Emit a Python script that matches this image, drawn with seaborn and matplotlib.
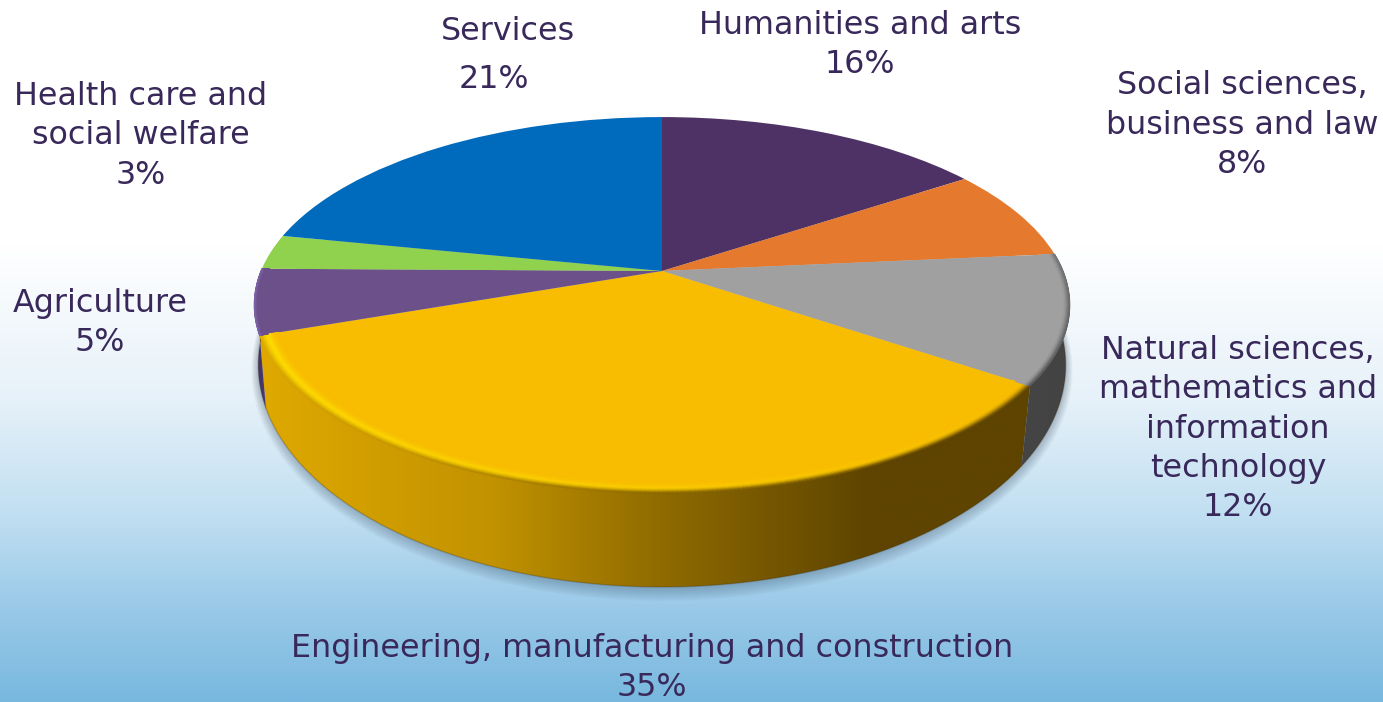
import numpy as np
import matplotlib
matplotlib.use("Agg")
import matplotlib.pyplot as plt
from matplotlib.colors import LinearSegmentedColormap, to_rgb
from matplotlib.patches import Polygon
from matplotlib.transforms import Transform
import seaborn as sns

# shares as drawn in the picture, printed percentages kept separately
categories = ["Humanities and arts", "Social sciences,\nbusiness and law",
              "Natural sciences,\nmathematics and\ninformation\ntechnology",
              "Engineering, manufacturing and construction",
              "Agriculture", "Health care and\nsocial welfare", "Services"]
shares = [15.6, 7.9, 11.1, 35.0, 5.6, 3.0, 21.8]
printed = ["16%", "8%", "12%", "35%", "5%", "3%", "21%"]
colors = ["#4e3265", "#e57a2e", "#a0a0a0", "#f8bc00", "#6b5089", "#90d14d", "#006bbd"]
label_pos = [(860, 45), (1242, 125), (1238, 429), (652, 668), (100, 323), (141, 136)]

CX, CY = 662, 271
TEXT = "#38295a"
GOLD_SIDE = [(0, "#dfa900"), (0.3, "#c29200"), (0.52, "#8f6b00"), (0.79, "#5e4400"), (1, "#5e4400")]


class Perspective(Transform):
    """Tilted disc: unit circle from ax.pie to picture pixels."""
    input_dims = output_dims = 2

    def __init__(self, sx=1.0, sy=1.0, shift=0.0):
        super().__init__()
        self.sx, self.sy, self.shift = sx, sy, shift

    def transform_non_affine(self, values):
        x, y = np.asarray(values).T
        den = 1 + 0.181 * y
        px = CX + 401 * self.sx * x / den
        py = CY - 181.8 * y / den
        return np.column_stack([px, 305 + self.shift + (py - 305) * self.sy])


sns.set_theme(style="white")
plt.rcParams["font.family"] = ["DejaVu Sans"]

fig = plt.figure(figsize=(13.83, 7.02), dpi=100)
ax = fig.add_axes([0, 0, 1, 1])

wedges, _ = ax.pie(shares, colors=colors, startangle=90, counterclock=False, radius=1)
ax.set_aspect("auto")
ax.axis("off")

top = Perspective()
bottom = Perspective(sx=404 / 408, sy=222 / 188, shift=60)
for w in wedges:
    w.set_transform(top + ax.transData)
    w.set_zorder(5)
    w.set_linewidth(0)

# background
bg = LinearSegmentedColormap.from_list("bg", [(0, "#ffffff"), (0.35, "#ffffff"), (0.57, "#e6f1f9"),
                                              (0.74, "#bfdef1"), (0.855, "#9dcbe9"), (1, "#78b8df")])
ax.imshow(np.linspace(0, 1, 512)[:, None], cmap=bg, extent=(0, 1383, 702, 0), aspect="auto", zorder=0)


def arc(theta1, theta2, tr, r=1.0):
    t = np.radians(np.linspace(theta1, theta2, 160))
    return tr.transform_non_affine(r * np.column_stack([np.cos(t), np.sin(t)]))


def warp(t):
    # dividers on the side lean slightly towards the front
    return -90 + (t + 90) * 0.975


def side_face(w, stops):
    low = arc(warp(w.theta1), warp(w.theta2), bottom)
    poly = np.vstack([arc(w.theta1, w.theta2, top), low[::-1]])
    patch = Polygon(poly, closed=True, fc="none", ec="none", zorder=3)
    ax.add_patch(patch)
    cm = LinearSegmentedColormap.from_list("s", stops)
    im = ax.imshow(np.linspace(0, 1, 512)[None, :], cmap=cm, aspect="auto", zorder=3,
                   extent=(poly[:, 0].min(), poly[:, 0].max(), 702, 0))
    im.set_clip_path(patch)
    ax.plot(low[:, 0], low[:, 1], color="#3a2a00", alpha=0.25, lw=1.0, zorder=3)


def bevel(w, peak_left, peak_right, outer_fn, inner=0.955):
    # soft rounded edge on the top face, vertex colours blended by gouraud shading
    base = np.array(to_rgb(w.get_facecolor()[:3]))
    th = np.linspace(w.theta1, w.theta2, 241)
    radii = np.linspace(inner, 1.0, 13)
    rr, tt = np.meshgrid(radii, np.radians(th), indexing="ij")
    pts = np.column_stack([(rr * np.cos(tt)).ravel(), (rr * np.sin(tt)).ravel()])
    xy = top.transform_non_affine(pts)
    X, Y = xy[:, 0].reshape(rr.shape), xy[:, 1].reshape(rr.shape)
    u = (radii - inner) / (1.0 - inner)
    frac = (th - w.theta1) / (w.theta2 - w.theta1)
    rgb = np.zeros((len(u), len(th), 3))
    left, right = np.array(to_rgb(peak_left)), np.array(to_rgb(peak_right))
    for j, f in enumerate(frac):
        peak = left + (right - left) * f
        outer = np.array(to_rgb(outer_fn(f)))
        for i, v in enumerate(u):
            if v < 0.6:
                c = base + (peak - base) * (v / 0.6) ** 2
            else:
                c = peak + (outer - peak) * ((v - 0.6) / 0.4) ** 1.5
            rgb[i, j] = c
    ax.pcolormesh(X, Y, rgb, shading="gouraud", zorder=6)


gold_cm = LinearSegmentedColormap.from_list("gs", GOLD_SIDE)

# soft shadow under the disc
for s in range(1, 15):
    ring = arc(0, 360, Perspective(sx=(404 + s * 0.5) / 408, sy=(222 + s * 0.6) / 188, shift=60 + s * 0.4))
    ax.add_patch(Polygon(ring, closed=True, fc="#2f4660", ec="none", alpha=0.022, zorder=1))

side_face(wedges[3], GOLD_SIDE)
side_face(wedges[2], ["#454545", "#434343"])
side_face(wedges[4], ["#3d2f60", "#4c3a72"])

# gold runs from left (theta1) to right (theta2); shade follows the side gradient
bevel(wedges[3], "#ffde00", "#f8bc00", lambda f: gold_cm(f))
bevel(wedges[2], "#a0a0a0", "#a0a0a0", lambda f: (0.33 + 0.12 * f, 0.33 + 0.12 * f, 0.33 + 0.12 * f), inner=0.965)
bevel(wedges[4], "#6b5089", "#6b5089", lambda f: "#7e66aa", inner=0.98)

ax.set_xlim(0, 1383)
ax.set_ylim(702, 0)

for cat, pct, (x, y) in zip(categories, printed, label_pos):
    ax.text(x, y, f"{cat}\n{pct}", ha="center", va="center", fontsize=22.9, color=TEXT,
            linespacing=1.35, zorder=10)

# the Services label has its percentage set apart, further left
ax.text(508, 31, categories[6], ha="center", va="center", fontsize=22.9, color=TEXT, zorder=10)
ax.text(494, 79, printed[6], ha="center", va="center", fontsize=22.9, color=TEXT, zorder=10)

fig.savefig("out.png", dpi=100)
